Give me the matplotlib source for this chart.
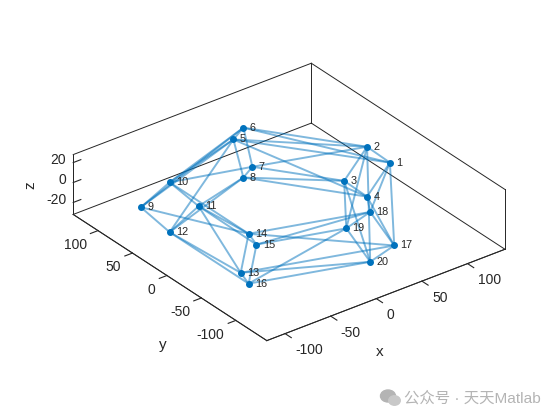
import matplotlib
matplotlib.use("Agg")
import matplotlib.pyplot as plt
from matplotlib.patches import Ellipse
from mpl_toolkits.mplot3d import proj3d

x_vals = [119.6, 94.2, 68.7, 94.2, 36.1, 29.1, 20.3, 29.1, -99.5, -79.6, -58.5, -79.6,
          -100.0, -79.6, -59.2, -79.6, 34.8, 27.4, 19.9, 27.4]
y_vals = [-6.4, -6.9, -7.4, -6.9, 110.2, 86.4, 61.7, 86.4, 65.0, 49.5, 35.4, 49.5,
          -80.6, -65.1, -49.5, -65.1, -124.9, -99.9, -75.1, -99.9]
z_vals = [0, 25, 0, -25, 0, 25, 0, -25, 0, 25, 0, -25, 0, 25, 0, -25, 0, 25, 0, -25]
labels = [str(i) for i in range(1, 21)]
edges = [(1,2),(2,3),(3,4),(4,1),
         (5,6),(6,7),(7,8),(8,5),
         (9,10),(10,11),(11,12),(12,9),
         (13,14),(14,15),(15,16),(16,13),
         (17,18),(18,19),(19,20),(20,17),
         (6,2),(6,1),(5,2),(5,1),(5,4),(7,2),(7,3),(8,3),(8,4),
         (1,17),(1,18),(2,19),(2,20),(3,19),(3,20),(4,18),(4,17),
         (14,18),(14,17),(15,19),(15,18),(13,17),(13,20),(16,20),(16,19),
         (9,14),(10,14),(11,14),(11,15),(11,13),(12,13),(12,16),
         (10,6),(10,5),(9,6),(9,5),(12,5),(10,7),(11,8),(12,8)]
x_ticks = [-100, -50, 0, 50, 100]
y_ticks = [-100, -50, 0, 50, 100]
z_ticks = [-20, 0, 20]
xlim = (-120, 141)
ylim = (-145, 136)
zlim = (-32, 28)

plt.rcParams['font.family'] = ['Liberation Sans', 'Noto Sans CJK SC', 'DejaVu Sans']
plt.rcParams['axes.unicode_minus'] = False
W, H = 560, 420
fig = plt.figure(figsize=(W/100, H/100), dpi=100)
S = 560
cx, cy = 281.5, 209.5
ax = fig.add_axes([(cx-S/2)/W, (H-cy-S/2)/H, S/W, S/H], projection='3d', proj_type='ortho')
ax.computed_zorder = False
ax.patch.set_alpha(0)
ax.view_init(elev=30, azim=-127.5)
ax.set_xlim(*xlim, view_margin=0)
ax.set_ylim(*ylim, view_margin=0)
ax.set_zlim(*zlim, view_margin=0)
ax.set_box_aspect((301, 319, 69.3), zoom=0.7675)
ax.grid(False)
dark = '#262626'
for a in (ax.xaxis, ax.yaxis, ax.zaxis):
    a.set_pane_color((1, 1, 1, 0))
    a.pane.set_edgecolor((1, 1, 1, 0))
    a.line.set_color(dark)
    a.line.set_linewidth(0.7)
    a._axinfo['tick']['inward_factor'] = 0.4
    a._axinfo['tick']['outward_factor'] = 0.0
ax.zaxis._axinfo['tick']['inward_factor'] = 0.0
ax.zaxis._axinfo['tick']['outward_factor'] = 0.4
ax.set_xticks(x_ticks); ax.set_yticks(y_ticks); ax.set_zticks(z_ticks)
ax.set_zticklabels([''] * len(z_ticks))
ax.tick_params(labelsize=10, colors=dark, width=0.6, length=3)
ax.tick_params(axis='x', pad=3)
ax.tick_params(axis='y', pad=2)
for t in ax.get_xticklabels():
    t.set_ha('left')
for t in ax.get_yticklabels():
    t.set_ha('right')
fig.text(380/W, 1-352/H, 'x', fontsize=11, color=dark, ha='center', va='center')
fig.text(163/W, 1-345/H, 'y', fontsize=11, color=dark, ha='center', va='center')
fig.text(30/W, 1-185/H, 'z', fontsize=11, color=dark, ha='center', va='center', rotation=90)

box = [((xlim[0],ylim[1],zlim[0]),(xlim[0],ylim[1],zlim[1])),
       ((xlim[0],ylim[1],zlim[1]),(xlim[1],ylim[1],zlim[1])),
       ((xlim[1],ylim[1],zlim[0]),(xlim[1],ylim[1],zlim[1])),
       ((xlim[1],ylim[1],zlim[1]),(xlim[1],ylim[0],zlim[1])),
       ((xlim[1],ylim[0],zlim[0]),(xlim[1],ylim[0],zlim[1])),
       ((xlim[0],ylim[1],zlim[0]),(xlim[1],ylim[1],zlim[0])),
       ((xlim[1],ylim[1],zlim[0]),(xlim[1],ylim[0],zlim[0])),
       ((xlim[0],ylim[0],zlim[0]),(xlim[1],ylim[0],zlim[0])),
       ((xlim[0],ylim[0],zlim[0]),(xlim[0],ylim[1],zlim[0]))]
for p, q in box:
    ax.plot(*zip(p, q), color=dark, lw=0.7, zorder=1)

for a, b in edges:
    i, j = a-1, b-1
    ax.plot([x_vals[i], x_vals[j]], [y_vals[i], y_vals[j]], [z_vals[i], z_vals[j]],
            color='#0072BD', alpha=0.5, lw=1.4, zorder=2)
ax.plot(x_vals, y_vals, z_vals, ls='none', marker='o', ms=4, color='#0072BD', zorder=3)
M = ax.get_proj()
for xv, yv, zv, t in zip(x_vals, y_vals, z_vals, labels):
    X, Y, _ = proj3d.proj_transform(xv, yv, zv, M)
    ax.annotate(t, (X, Y), xytext=(4.5, 0), textcoords='offset points', fontsize=7.8,
                color=dark, ha='left', va='center', zorder=4)
for zt in z_ticks:
    X, Y, _ = proj3d.proj_transform(xlim[0], ylim[1], zt, M)
    ax.annotate(str(zt), (X, Y), xytext=(-5, 1.5), textcoords='offset points', fontsize=10,
                color=dark, ha='right', va='center', zorder=4)

gray = '#b4b4b4'
fig.add_artist(Ellipse((388/W, 1-396/H), 15/W, 12/H, transform=fig.transFigure, color=gray))
fig.add_artist(Ellipse((394.5/W, 1-400.5/H), 11.5/W, 9.5/H, transform=fig.transFigure, color='#c8c8c8'))
fig.text(403.5/W, 1-398/H, '公众号 · 天天Matlab', fontsize=11.1, color=gray, ha='left', va='center')
fig.savefig('out.png', dpi=100)
